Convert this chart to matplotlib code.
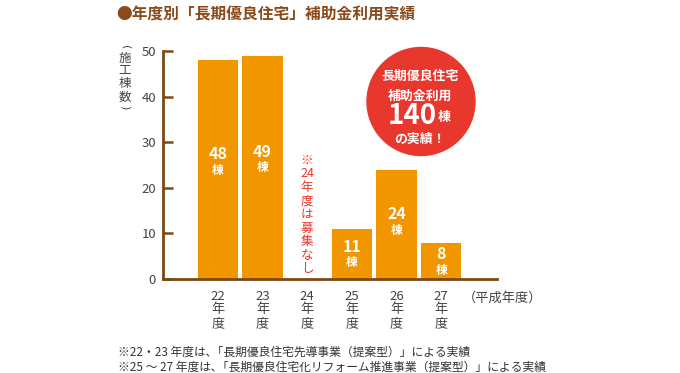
import matplotlib
matplotlib.use("Agg")
import matplotlib.pyplot as plt
from matplotlib.patches import Ellipse

plt.rcParams['font.family'] = ['Noto Sans CJK JP', 'DejaVu Sans']

years = ["22", "23", "24", "25", "26", "27"]
values = [48, 49, None, 11, 24, 8]
yticks = [0, 10, 20, 30, 40, 50]

ORANGE = "#F29600"
BROWN = "#7A4A14"
RED = "#E8382D"
GRAY = "#444444"

W, H = 680, 373
fig = plt.figure(figsize=(6.8, 3.73), dpi=100)
ax = fig.add_axes([163/W, 1-279/H, (497-163)/W, (279-51)/H])

def fx(px):
    return px / W

def fy(py):
    return 1 - py / H

xs = list(range(len(years)))
for x, v in zip(xs, values):
    if v is None:
        continue
    ax.bar(x, v, width=0.9, color=ORANGE, zorder=2)
    yc = 0.55 * v + 1
    ax.text(x, yc, f"{v}", ha="center", va="center",
            color="white", fontsize=11.5, fontweight="bold", zorder=3)
    ax.text(x, yc - 3.5, "棟", ha="center", va="center",
            color="white", fontsize=8.5, fontweight="bold", zorder=3)

# no recruitment in 24
note24 = ["※", "24", "年", "度", "は", "募", "集", "な", "し"]
for i, ch in enumerate(note24):
    fig.text(fx(307), fy(160 + i*13.6), ch, ha="center", va="center",
             color=RED, fontsize=9)

ax.set_xlim(-1.23, 6.25)
ax.set_ylim(0, 50)
ax.set_yticks(yticks)
ax.set_yticklabels([str(t) for t in yticks], color=GRAY, fontsize=9.5)
ax.set_xticks(xs)
ax.set_xticklabels([])
ax.tick_params(axis="y", direction="in", length=7, width=1.8, color=BROWN, pad=5)
ax.tick_params(axis="x", length=0)
for s in ["top", "right"]:
    ax.spines[s].set_visible(False)
ax.spines["left"].set_color(BROWN)
ax.spines["left"].set_linewidth(2)
ax.spines["bottom"].set_color(BROWN)
ax.spines["bottom"].set_linewidth(2)

# stacked x labels
for x, y in zip(xs, years):
    px = ax.transData.transform((x, 0))[0]
    for j, ch in enumerate([y, "年", "度"]):
        fig.text(px/W, fy(296 + j*14), ch, ha="center", va="center",
                 color=GRAY, fontsize=9.5)

fig.text(fx(463), fy(298), "（平成年度）", ha="left", va="center",
         color=GRAY, fontsize=9.5)

# vertical y label
fig.text(fx(125), fy(47), "(", ha="center", va="center", rotation=-90,
         color=GRAY, fontsize=8, family="DejaVu Sans")
for ch, py in [("施", 58), ("工", 71), ("棟", 84), ("数", 97)]:
    fig.text(fx(125), fy(py), ch, ha="center", va="center",
             color=GRAY, fontsize=9)
fig.text(fx(125), fy(107), ")", ha="center", va="center", rotation=-90,
         color=GRAY, fontsize=8, family="DejaVu Sans")

fig.text(fx(116), fy(14), "●年度別「長期優良住宅」補助金利用実績",
         ha="left", va="center", color="#8A4A1A", fontsize=11.3, fontweight="bold")

# circle
cx, cy, r = 421, 101.5, 54
fig.patches.append(Ellipse((fx(cx), fy(cy)), 2*r/W, 2*r/H,
                           transform=fig.transFigure, color=RED, zorder=5))
fig.text(fx(420), fy(76), "長期優良住宅", ha="center", va="center",
         color="white", fontsize=9.3, fontweight="bold", zorder=6)
fig.text(fx(420), fy(96), "補助金利用", ha="center", va="center",
         color="white", fontsize=9.3, fontweight="bold", zorder=6)
fig.text(fx(437), fy(116), "140", ha="right", va="center",
         color="white", fontsize=20, fontweight="bold", zorder=6)
fig.text(fx(438), fy(117.5), "棟", ha="left", va="center",
         color="white", fontsize=9.3, fontweight="bold", zorder=6)
fig.text(fx(420), fy(138.5), "の実績！", ha="center", va="center",
         color="white", fontsize=9.3, fontweight="bold", zorder=6)

fig.text(fx(118), fy(352), "※22・23 年度は､「長期優良住宅先導事業（提案型）」による実績",
         ha="left", va="center", color="#333333", fontsize=8.5)
fig.text(fx(118), fy(367), "※25 ～ 27 年度は､「長期優良住宅化リフォーム推進事業（提案型）」による実績",
         ha="left", va="center", color="#333333", fontsize=8.5)

fig.savefig("out.png", dpi=100)
